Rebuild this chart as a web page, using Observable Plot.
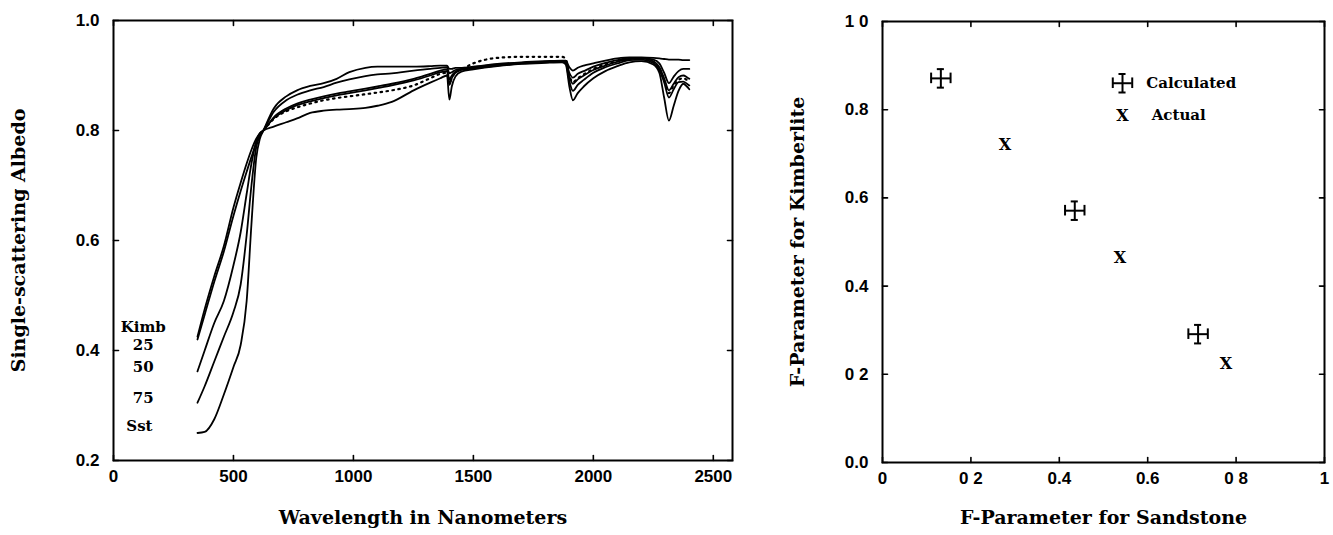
<!DOCTYPE html>
<html><head><meta charset="utf-8">
<script src="https://cdn.jsdelivr.net/npm/d3@7"></script>
<script src="https://cdn.jsdelivr.net/npm/@observablehq/plot@0.6"></script>
<style>
body{margin:0;background:#fff;width:1333px;height:535px;overflow:hidden;position:relative}
#left{position:absolute;left:0;top:0}
#right{position:absolute;left:780px;top:0}
</style></head><body>
<div id="left"></div><div id="right"></div>
<script>
// ---------- Left panel data ----------
const wl = [350,380,420,460,500,530,555,575,595,610,625,
  668,720,765,820,876,930,983,1050,1100,1160,1251,1320,1362,1390,
  1400,1410,1425,1450,
  1500,1600,1700,1800,1870,
  1885,1900,1915,1935,1960,2000,2050,2100,2150,2200,2250,2275,2295,2315,2335,2355,2375,2390,2400];

const kimb = [.425,.475,.535,.59,.66,.705,.74,.765,.785,.795,.80,
  .807,.815,.822,.832,.836,.838,.839,.841,.845,.852,.873,.887,.895,.90,
  .856,.88,.898,.907,
  .911,.917,.921,.923,.924,
  .92,.88,.855,.868,.88,.895,.908,.917,.924,.926,.92,.905,.86,.818,.845,.872,.885,.88,.875];
const k25 = [.42,.465,.525,.58,.645,.69,.725,.752,.777,.79,.80,
  .822,.837,.846,.853,.859,.864,.868,.873,.877,.882,.891,.900,.906,.908,
  .883,.895,.905,.91,
  .913,.918,.922,.924,.925,
  .922,.89,.872,.883,.892,.905,.915,.922,.928,.929,.923,.91,.888,.86,.875,.888,.889,.885,.882];
const k50 = [.362,.40,.45,.49,.555,.615,.685,.74,.78,.795,.80,
  .824,.84,.849,.856,.862,.867,.871,.876,.88,.885,.894,.903,.909,.911,
  .893,.90,.907,.911,
  .914,.919,.922,.925,.926,
  .924,.898,.885,.893,.90,.91,.918,.925,.93,.931,.926,.915,.895,.873,.885,.897,.90,.897,.894];
const k75 = [.305,.335,.38,.425,.47,.52,.61,.70,.77,.79,.80,
  .834,.855,.865,.873,.879,.887,.893,.899,.902,.904,.909,.912,.914,.915,
  .904,.906,.91,.912,
  .915,.92,.923,.925,.926,
  .925,.905,.896,.903,.908,.916,.923,.928,.932,.932,.929,.922,.905,.886,.898,.908,.912,.912,.912];
const sst = [.25,.252,.275,.32,.37,.41,.49,.63,.75,.785,.80,
  .84,.862,.873,.881,.886,.894,.906,.914,.916,.916,.916,.917,.918,.918,
  .912,.912,.914,.914,
  .916,.921,.924,.926,.927,
  .927,.915,.909,.914,.918,.922,.927,.931,.933,.933,.932,.931,.930,.929,.929,.929,.928,.928,.928];
const dotted = [null,null,null,null,null,null,null,null,null,.793,.80,
  .821,.835,.842,.849,.855,.859,.862,.866,.869,.873,.882,.895,.903,.905,
  .885,.896,.905,.911,
  .922,.932,.934,.934,.934,
  .93,.90,.888,.895,.902,.912,.92,.926,.93,.93,.925,.913,.892,.868,.882,.892,.895,.892,.89];

const solidNames = ["Kimb","25","50","75","Sst"];
const solidValues = [kimb,k25,k50,k75,sst];

const curveLabels = ["Kimb","25","50","75","Sst"];
const curveLabelX = [124,124,124,124,108];
const curveLabelY = [.443,.410,.370,.314,.262];

const xTicksL = [0,500,1000,1500,2000,2500];
const yTicksL = [0.2,0.4,0.6,0.8,1.0];
const xTitleL = "Wavelength in Nanometers";
const yTitleL = "Single-scattering Albedo";

// ---------- Right panel data ----------
const calcX = [0.132,0.435,0.714];
const calcY = [0.871,0.571,0.291];
const calcErrX = [0.022,0.022,0.022];
const calcErrY = [0.021,0.021,0.021];
const actX = [0.277,0.537,0.777];
const actY = [0.721,0.465,0.224];
const legendLabels = ["Calculated","Actual"];
const legendY = [0.86,0.787];
const legendSymX = 0.543;
const legendTextX = [0.597,0.609];
const xTicksR = [0,0.2,0.4,0.6,0.8,1];
const xTickLabelsR = ["0","0 2","0.4","0.6","0 8","1"];
const yTicksR = [0,0.2,0.4,0.6,0.8,1];
const yTickLabelsR = ["0.0","0 2","0.4","0.6","0.8","1 0"];
const xTitleR = "F-Parameter for Sandstone";
const yTitleR = "F-Parameter for Kimberlite";

// ---------- styles ----------
const tickFont = "'Liberation Sans', Arial, sans-serif";
const serifFont = "'DejaVu Serif', 'Liberation Serif', serif";
const titleSize = 19;
const tickShape = {draw(ctx, l){ ctx.moveTo(0,0); ctx.lineTo(0,-l); }};
const TL = 5;

function tickVectors(xt, yt, xd, yd) {
  const o = {length: TL, anchor: "start", shape: tickShape, strokeWidth: 1.6};
  return [
    Plot.vector(xt, {...o, x: d=>d, y: () => yd[0], rotate: 0}),
    Plot.vector(xt, {...o, x: d=>d, y: () => yd[1], rotate: 180}),
    Plot.vector(yt, {...o, x: () => xd[0], y: d=>d, rotate: 90}),
    Plot.vector(yt, {...o, x: () => xd[1], y: d=>d, rotate: 270})
  ];
}

// ---------- Left plot ----------
const rowsSolid = solidNames.flatMap((s,i)=> wl.map((w,j)=>({nm:w, alb:solidValues[i][j], s})));
const rowsDot = wl.map((w,j)=>({nm:w, alb:dotted[j]})).filter(d => d.alb != null);
const xdL = [0,2580], ydL = [0.2,1.0];

const left = Plot.plot({
  width: 780, height: 535,
  marginLeft: 113, marginRight: 48, marginTop: 20, marginBottom: 75,
  x: {domain: xdL}, y: {domain: ydL},
  style: {fontFamily: tickFont, fontSize: "17px", fontWeight: "bold", color: "black", background: "white"},
  marks: [
    Plot.axisX(xTicksL, {anchor: "bottom", tickSize: 0, tickPadding: 9, tickFormat: d => String(d), label: null}),
    Plot.axisY(yTicksL, {anchor: "left", tickSize: 0, tickPadding: 14, tickFormat: d => d.toFixed(1), label: null}),
    ...tickVectors(xTicksL, yTicksL, xdL, ydL),
    Plot.line(rowsSolid, {x: "nm", y: "alb", z: "s", curve: "monotone-x", stroke: "black", strokeWidth: 1.8}),
    Plot.line(rowsDot, {x: "nm", y: "alb", curve: "monotone-x", stroke: "black", strokeWidth: 2.2, strokeDasharray: "1.5,4.5"}),
    Plot.text(curveLabels, {x: (d,i) => curveLabelX[i], y: (d,i) => curveLabelY[i], text: d => d,
      fontFamily: serifFont, fontSize: 15, fontWeight: "bold"}),
    Plot.frame({strokeWidth: 2}),
    Plot.text([xTitleL], {frameAnchor: "bottom", dy: 63, text: d => d, textAnchor: "middle", fontFamily: serifFont, fontSize: titleSize, fontWeight: "bold"}),
    Plot.text([yTitleL], {frameAnchor: "left", dx: -95, rotate: -90, text: d => d, textAnchor: "middle", fontFamily: serifFont, fontSize: titleSize, fontWeight: "bold"})
  ]
});
document.getElementById("left").append(left);

// ---------- Right plot ----------
const calc = calcX.map((x,i)=>({x, y: calcY[i], ex: calcErrX[i], ey: calcErrY[i]}));
const act = actX.map((x,i)=>({x, y: actY[i]}));
const legendCalc = [{x: legendSymX, y: legendY[0], ex: calcErrX[0], ey: calcErrY[0]}];
const capX = 0.008, capY = 0.012;
const xdR = [0,1], ydR = [0,1];

function errMarks(data) {
  return [
    Plot.ruleY(data, {y: "y", x1: d => d.x - d.ex, x2: d => d.x + d.ex, strokeWidth: 2}),
    Plot.ruleX(data, {x: "x", y1: d => d.y - d.ey, y2: d => d.y + d.ey, strokeWidth: 2}),
    Plot.ruleX(data, {x: d => d.x - d.ex, y1: d => d.y - capY, y2: d => d.y + capY, strokeWidth: 2}),
    Plot.ruleX(data, {x: d => d.x + d.ex, y1: d => d.y - capY, y2: d => d.y + capY, strokeWidth: 2}),
    Plot.ruleY(data, {y: d => d.y - d.ey, x1: d => d.x - capX, x2: d => d.x + capX, strokeWidth: 2}),
    Plot.ruleY(data, {y: d => d.y + d.ey, x1: d => d.x - capX, x2: d => d.x + capX, strokeWidth: 2})
  ];
}

const right = Plot.plot({
  width: 553, height: 535,
  marginLeft: 102, marginRight: 9, marginTop: 21, marginBottom: 73,
  x: {domain: xdR}, y: {domain: ydR},
  style: {fontFamily: tickFont, fontSize: "17px", fontWeight: "bold", color: "black", background: "white"},
  marks: [
    Plot.axisX(xTicksR, {anchor: "bottom", tickSize: 0, tickPadding: 9, tickFormat: d => xTickLabelsR[xTicksR.indexOf(d)], label: null}),
    Plot.axisY(yTicksR, {anchor: "left", tickSize: 0, tickPadding: 14, tickFormat: d => yTickLabelsR[yTicksR.indexOf(d)], label: null}),
    ...tickVectors(xTicksR, yTicksR, xdR, ydR),
    ...errMarks(calc),
    Plot.text(act, {x: "x", y: "y", text: () => "X", fontFamily: serifFont, fontSize: 16, fontWeight: "bold"}),
    ...errMarks(legendCalc),
    Plot.text([legendLabels[1]], {x: () => legendSymX, y: () => legendY[1], text: () => "X", fontFamily: serifFont, fontSize: 16, fontWeight: "bold"}),
    Plot.text(legendLabels, {x: (d,i) => legendTextX[i], y: (d,i) => legendY[i], text: d => d, textAnchor: "start",
      fontFamily: serifFont, fontSize: 15, fontWeight: "bold"}),
    Plot.frame({strokeWidth: 2}),
    Plot.text([xTitleR], {frameAnchor: "bottom", dy: 61, text: d => d, textAnchor: "middle", fontFamily: serifFont, fontSize: titleSize, fontWeight: "bold"}),
    Plot.text([yTitleR], {frameAnchor: "left", dx: -85, rotate: -90, text: d => d, textAnchor: "middle", fontFamily: serifFont, fontSize: titleSize, fontWeight: "bold"})
  ]
});
document.getElementById("right").append(right);
</script></body></html>
